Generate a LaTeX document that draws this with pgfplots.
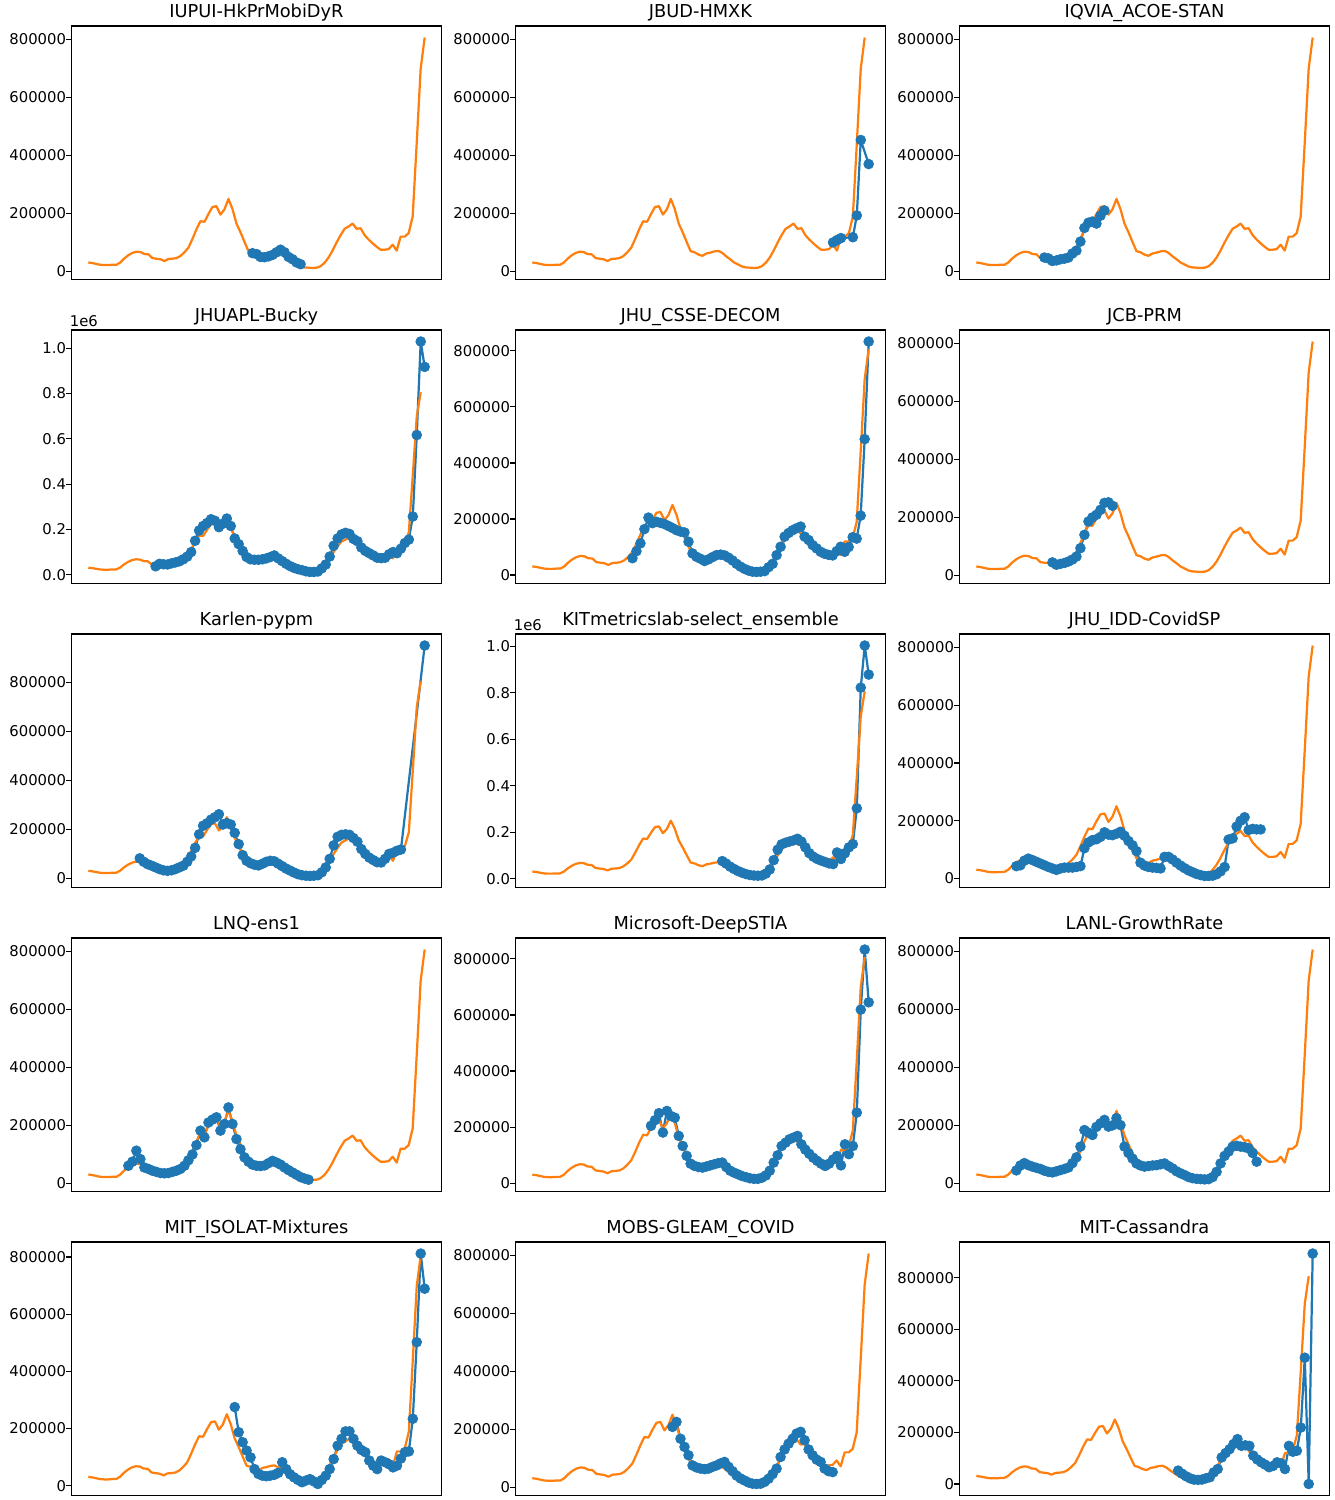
\documentclass[border=0pt]{standalone}
\usepackage{fontspec}
\setmainfont{DejaVu Sans}
\usepackage{pgfplots}
\usepackage{pgfplotstable}
\pgfplotsset{compat=1.18}
\definecolor{mplblue}{HTML}{1F77B4}
\definecolor{mplorange}{HTML}{FF7F0E}

\pgfplotstableread{
x y
0 31000
1 29000
2 26000
3 23000
4 22000
5 22000
6 23000
7 23000
8 31000
9 45000
10 56000
11 64000
12 68000
13 67000
14 60000
15 59000
16 46000
17 44000
18 42000
19 36000
20 43000
21 44000
22 46000
23 53000
24 66000
25 82000
26 112000
27 145000
28 173000
29 171000
30 198000
31 222000
32 225000
33 196000
34 214000
35 250000
36 215000
37 165000
38 135000
39 102000
40 70000
41 66000
42 58000
43 54000
44 62000
45 65000
46 69000
47 71000
48 64000
49 52000
50 42000
51 31000
52 24000
53 17000
54 14000
55 13000
56 12000
57 13000
58 18000
59 30000
60 48000
61 72000
62 100000
63 125000
64 147000
65 155000
66 165000
67 147000
68 149000
69 125000
70 110000
71 97000
72 85000
73 75000
74 75000
75 77000
76 92000
77 72000
78 120000
79 120000
80 132000
81 189000
82 440000
83 699000
84 806000
}\truth

\pgfplotsset{
  panel/.style={
    scale only axis, width=249.75pt, height=171.1pt, anchor=north west,
    enlarge x limits=0.05, enlarge y limits=0.05,
    xtick=\empty, ytick pos=left, tick align=outside,
    major tick length=3.5pt,
    tick style={black, line width=0.8pt},
    axis line style={black, line width=0.8pt},
    scaled y ticks=false,
    ytick={0,200000,400000,600000,800000},
    yticklabels={0,200000,400000,600000,800000},
    yticklabel style={font=\fontsize{10}{12}\selectfont, anchor=east, inner sep=0pt},
    title style={font=\fontsize{12}{14}\selectfont, at={(0.5,1)}, anchor=base, inner sep=0pt},
  },
  mega/.style={
    ytick={0,200000,400000,600000,800000,1000000},
    yticklabels={0.0,0.2,0.4,0.6,0.8,1.0},
    extra description/.code={\node[anchor=south west, inner sep=0pt, font=\fontsize{10}{12}\selectfont] at (rel axis cs:-0.005,1.012) {1e6};},
  },
  truth/.style={mplorange, line width=1.5pt, no markers, line join=round},
  fc/.style={mplblue, line width=1.5pt, mark=*, mark size=3.3pt, mark options={solid, fill=mplblue, draw=mplblue, line width=0.5pt}, line join=round},
}

\begin{document}
\begin{tikzpicture}
\path[use as bounding box] (0,0) rectangle (901.125pt,-1012.5pt);

% Row 1
\begin{axis}[panel, at={(48.26pt,-17.55pt)}, title={IUPUI-HkPrMobiDyR}]
\addplot[fc] coordinates {(41,63000)(42,60000)(43,50000)(44,49000)(45,52000)(46,57000)(47,66000)(48,75000)(49,66000)(50,50000)(51,42000)(52,31000)(53,25000)};
\addplot[truth] table {\truth};
\end{axis}

\begin{axis}[panel, at={(347.96pt,-17.55pt)}, title={JBUD-HMXK}]
\addplot[fc] coordinates {(76,100000)(77,108000)(78,115000)(81,118000)(82,193000)(83,453000)(85,370000)};
\addplot[truth] table {\truth};
\end{axis}

\begin{axis}[panel, at={(647.66pt,-17.55pt)}, title={IQVIA\_ACOE-STAN}]
\addplot[fc] coordinates {(17,48000)(18,45000)(19,36000)(20,38000)(21,42000)(22,44000)(23,48000)(24,62000)(25,72000)(26,103000)(27,150000)(28,168000)(29,172000)(30,165000)(31,192000)(32,210000)};
\addplot[truth] table {\truth};
\end{axis}

% Row 2
\begin{axis}[panel, mega, at={(48.26pt,-222.75pt)}, title={JHUAPL-Bucky}]
\addplot[fc] coordinates {(17,37000)(18,48000)(19,46000)(20,45000)(21,50000)(22,54000)(23,59000)(24,68000)(25,80000)(26,100000)(27,150000)(28,195000)(29,215000)(30,228000)(31,245000)(32,238000)(33,210000)(34,225000)(35,248000)(36,215000)(37,160000)(38,135000)(39,105000)(40,78000)(41,68000)(42,66000)(43,66000)(44,68000)(45,72000)(46,78000)(47,85000)(48,72000)(49,60000)(50,48000)(51,38000)(52,30000)(53,24000)(54,20000)(55,15000)(56,12000)(57,12000)(58,14000)(59,28000)(60,45000)(61,80000)(62,128000)(63,160000)(64,178000)(65,185000)(66,180000)(67,158000)(68,148000)(69,120000)(70,105000)(71,95000)(72,85000)(73,75000)(74,73000)(75,75000)(76,90000)(77,100000)(78,95000)(79,115000)(80,140000)(81,155000)(82,257000)(83,617000)(84,1030000)(85,918000)};
\addplot[truth] table {\truth};
\end{axis}

\begin{axis}[panel, at={(347.96pt,-222.75pt)}, title={JHU\_CSSE-DECOM}]
\addplot[fc] coordinates {(25,60000)(26,85000)(27,113000)(28,164000)(29,205000)(30,185000)(31,190000)(32,186000)(33,182000)(34,175000)(35,168000)(36,160000)(37,155000)(38,152000)(39,119000)(40,77000)(41,65000)(42,58000)(43,50000)(44,56000)(45,64000)(46,71000)(47,73000)(48,70000)(49,62000)(50,52000)(51,40000)(52,30000)(53,22000)(54,16000)(55,12000)(56,11000)(57,12000)(58,14000)(59,28000)(60,40000)(61,71000)(62,101000)(63,137000)(64,150000)(65,160000)(66,167000)(67,173000)(68,137000)(69,125000)(70,107000)(71,95000)(72,83000)(73,76000)(74,72000)(75,70000)(76,85000)(77,101000)(78,83000)(79,100000)(80,135000)(81,130000)(82,212000)(83,485000)(84,833000)};
\addplot[truth] table {\truth};
\end{axis}

\begin{axis}[panel, at={(647.66pt,-222.75pt)}, title={JCB-PRM}]
\addplot[fc] coordinates {(19,45000)(20,37000)(21,40000)(22,43000)(23,48000)(24,55000)(25,65000)(26,94000)(27,140000)(28,186000)(29,200000)(30,209000)(31,226000)(32,250000)(33,252000)(34,240000)};
\addplot[truth] table {\truth};
\end{axis}

% Row 3
\begin{axis}[panel, at={(48.26pt,-427.95pt)}, title={Karlen-pypm}]
\addplot[fc] coordinates {(13,82000)(14,68000)(15,58000)(16,52000)(17,45000)(18,38000)(19,33000)(20,31000)(21,33000)(22,38000)(23,45000)(24,52000)(25,68000)(26,90000)(27,125000)(28,180000)(29,215000)(30,225000)(31,240000)(32,250000)(33,262000)(34,220000)(35,226000)(36,220000)(37,186000)(38,140000)(39,95000)(40,72000)(41,62000)(42,56000)(43,53000)(44,60000)(45,68000)(46,72000)(47,70000)(48,60000)(49,50000)(50,40000)(51,32000)(52,24000)(53,17000)(54,13000)(55,11000)(56,10000)(57,11000)(58,13000)(59,25000)(60,45000)(61,80000)(62,135000)(63,170000)(64,178000)(65,180000)(66,178000)(67,165000)(68,150000)(69,120000)(70,100000)(71,85000)(72,75000)(73,66000)(74,65000)(75,80000)(76,100000)(77,105000)(78,113000)(79,118000)(85,951000)};
\addplot[truth] table {\truth};
\end{axis}

\begin{axis}[panel, mega, at={(347.96pt,-427.95pt)}, title={KITmetricslab-select\_ensemble}]
\addplot[fc] coordinates {(48,76000)(49,65000)(50,52000)(51,42000)(52,33000)(53,26000)(54,20000)(55,16000)(56,14000)(57,13000)(58,14000)(59,22000)(60,40000)(61,80000)(62,125000)(63,148000)(64,155000)(65,160000)(66,165000)(67,172000)(68,160000)(69,135000)(70,110000)(71,95000)(72,85000)(73,78000)(74,72000)(75,66000)(76,63000)(77,113000)(78,85000)(79,110000)(80,135000)(81,149000)(82,303000)(83,822000)(84,1003000)(85,878000)};
\addplot[truth] table {\truth};
\end{axis}

\begin{axis}[panel, at={(647.66pt,-427.95pt)}, title={JHU\_IDD-CovidSP}]
\addplot[fc] coordinates {(10,43000)(11,46000)(12,62000)(13,69000)(14,64000)(15,58000)(16,52000)(17,46000)(18,40000)(19,35000)(20,30000)(21,35000)(22,38000)(23,38000)(24,38000)(25,40000)(26,43000)(27,105000)(28,125000)(29,133000)(30,136000)(31,144000)(32,160000)(33,152000)(34,150000)(35,155000)(36,162000)(37,148000)(38,130000)(39,115000)(40,95000)(41,55000)(42,45000)(43,40000)(44,38000)(45,37000)(46,35000)(47,75000)(48,75000)(49,66000)(50,55000)(51,45000)(52,36000)(53,28000)(54,22000)(55,16000)(56,12000)(57,9000)(58,9000)(59,10000)(60,15000)(61,25000)(62,40000)(63,135000)(64,139000)(65,180000)(66,200000)(67,212000)(68,168000)(69,172000)(70,170000)(71,170000)};
\addplot[truth] table {\truth};
\end{axis}

% Row 4
\begin{axis}[panel, at={(48.26pt,-633.15pt)}, title={LNQ-ens1}]
\addplot[fc] coordinates {(10,61000)(11,75000)(12,113000)(13,84000)(14,55000)(15,50000)(16,44000)(17,40000)(18,36000)(19,35000)(20,36000)(21,40000)(22,44000)(23,50000)(24,61000)(25,80000)(26,100000)(27,132000)(28,182000)(29,159000)(30,210000)(31,220000)(32,228000)(33,182000)(34,205000)(35,262000)(36,205000)(37,153000)(38,118000)(39,90000)(40,75000)(41,65000)(42,61000)(43,60000)(44,62000)(45,70000)(46,78000)(47,72000)(48,65000)(49,55000)(50,46000)(51,38000)(52,30000)(53,22000)(54,17000)(55,13000)};
\addplot[truth] table {\truth};
\end{axis}

\begin{axis}[panel, at={(347.96pt,-633.15pt)}, title={Microsoft-DeepSTIA}]
\addplot[fc] coordinates {(30,205000)(31,225000)(32,250000)(33,181000)(34,258000)(35,240000)(36,234000)(37,169000)(38,133000)(39,98000)(40,70000)(41,62000)(42,58000)(43,56000)(44,60000)(45,64000)(46,68000)(47,72000)(48,74000)(49,58000)(50,45000)(51,38000)(52,32000)(53,26000)(54,22000)(55,18000)(56,16000)(57,16000)(58,20000)(59,28000)(60,45000)(61,74000)(62,100000)(63,133000)(64,145000)(65,157000)(66,163000)(67,169000)(68,139000)(69,120000)(70,105000)(71,91000)(72,80000)(73,70000)(74,62000)(75,70000)(76,85000)(77,97000)(78,64000)(79,139000)(80,104000)(81,133000)(82,252000)(83,619000)(84,833000)(85,645000)};
\addplot[truth] table {\truth};
\end{axis}

\begin{axis}[panel, at={(647.66pt,-633.15pt)}, title={LANL-GrowthRate}]
\addplot[fc] coordinates {(10,45000)(11,62000)(12,70000)(13,63000)(14,58000)(15,54000)(16,50000)(17,44000)(18,40000)(19,38000)(20,42000)(21,46000)(22,50000)(23,55000)(24,70000)(25,90000)(26,127000)(27,184000)(28,175000)(29,167000)(30,195000)(31,207000)(32,219000)(33,196000)(34,200000)(35,225000)(36,201000)(37,127000)(38,105000)(39,86000)(40,69000)(41,62000)(42,58000)(43,60000)(44,62000)(45,63000)(46,66000)(47,69000)(48,60000)(49,52000)(50,42000)(51,35000)(52,29000)(53,22000)(54,18000)(55,16000)(56,15000)(57,14000)(58,15000)(59,22000)(60,40000)(61,69000)(62,95000)(63,110000)(64,127000)(65,130000)(66,127000)(67,125000)(68,121000)(69,105000)(70,75000)};
\addplot[truth] table {\truth};
\end{axis}

% Row 5
\begin{axis}[panel, at={(48.26pt,-838.35pt)}, title={MIT\_ISOLAT-Mixtures}]
\addplot[fc] coordinates {(37,275000)(38,187000)(39,152000)(40,123000)(41,99000)(42,58000)(43,41000)(44,35000)(45,33000)(46,35000)(47,38000)(48,45000)(49,82000)(50,58000)(51,40000)(52,29000)(53,20000)(54,12000)(55,18000)(56,23000)(57,15000)(58,6000)(59,20000)(60,35000)(61,58000)(62,93000)(63,140000)(64,164000)(65,190000)(66,190000)(67,164000)(68,140000)(69,125000)(70,117000)(71,88000)(72,70000)(73,58000)(74,88000)(75,82000)(76,75000)(77,64000)(78,70000)(79,95000)(80,117000)(81,120000)(82,234000)(83,502000)(84,812000)(85,689000)};
\addplot[truth] table {\truth};
\end{axis}

\begin{axis}[panel, at={(347.96pt,-838.35pt)}, title={MOBS-GLEAM\_COVID}]
\addplot[fc] coordinates {(35,208000)(36,225000)(37,167000)(38,139000)(39,110000)(40,75000)(41,68000)(42,64000)(43,62000)(44,64000)(45,70000)(46,75000)(47,82000)(48,87000)(49,70000)(50,55000)(51,40000)(52,30000)(53,23000)(54,16000)(55,12000)(56,11000)(57,12000)(58,18000)(59,29000)(60,45000)(61,64000)(62,104000)(63,130000)(64,150000)(65,167000)(66,185000)(67,191000)(68,162000)(69,130000)(70,110000)(71,95000)(72,87000)(73,64000)(74,55000)(75,52000)};
\addplot[truth] table {\truth};
\end{axis}

\begin{axis}[panel, at={(647.66pt,-838.35pt)}, title={MIT-Cassandra}]
\addplot[fc] coordinates {(51,52000)(52,40000)(53,30000)(54,22000)(55,17000)(56,16000)(57,17000)(58,22000)(59,26000)(60,45000)(61,58000)(62,103000)(63,120000)(64,135000)(65,155000)(66,174000)(67,148000)(68,150000)(69,148000)(70,110000)(71,95000)(72,84000)(73,75000)(74,65000)(75,70000)(76,84000)(77,80000)(78,58000)(79,148000)(80,125000)(81,129000)(82,219000)(83,490000)(84,0)(85,894000)};
\addplot[truth] table {\truth};
\end{axis}
\end{tikzpicture}
\end{document}
